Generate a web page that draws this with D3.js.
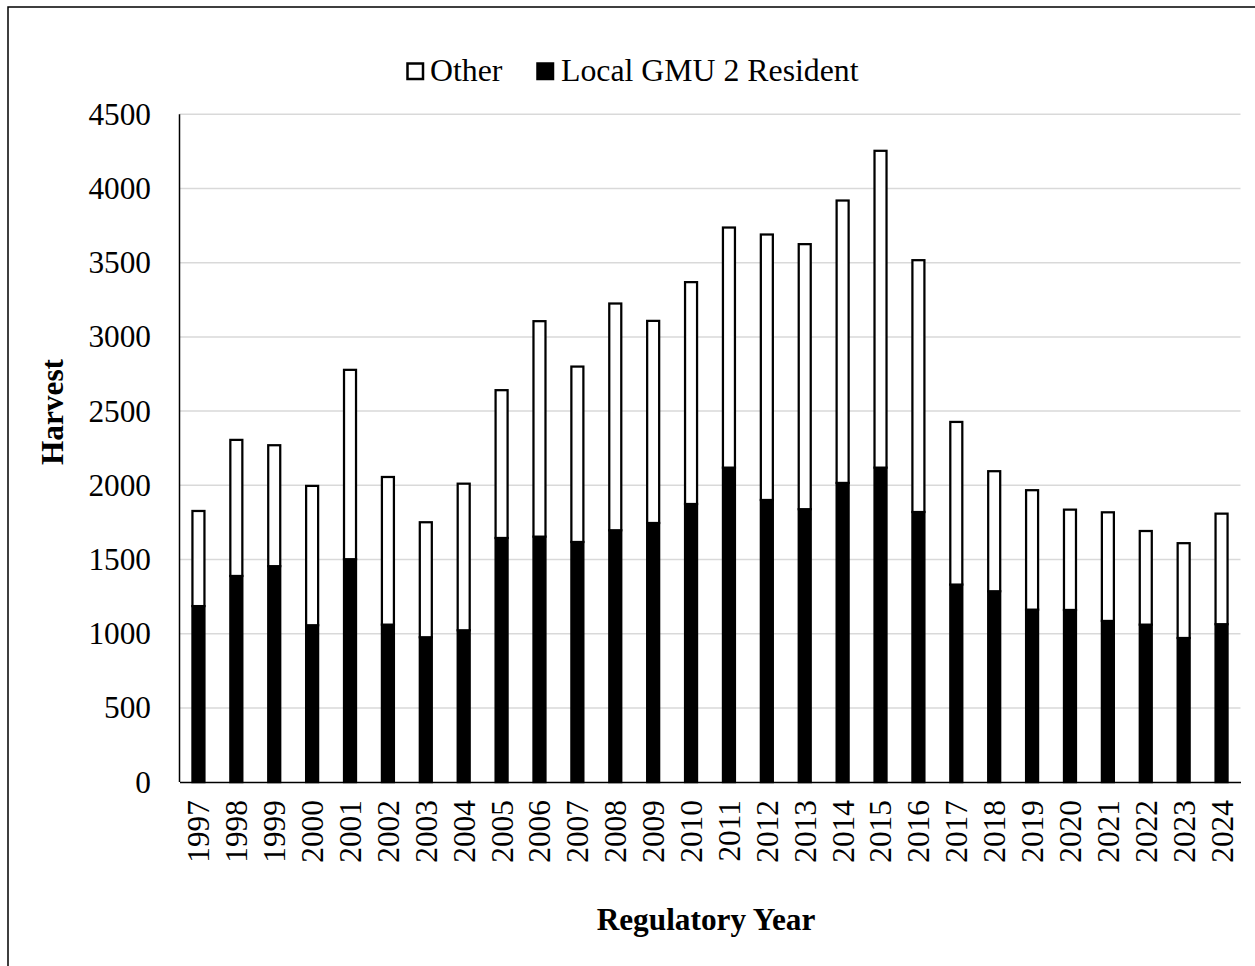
<!DOCTYPE html>
<html>
<head>
<meta charset="utf-8">
<script src="https://cdn.jsdelivr.net/npm/d3@7"></script>
<style>
  html, body { margin: 0; padding: 0; background: #fff; }
  svg { display: block; font-family: "Liberation Serif", "Times New Roman", serif; }
  svg text { font-family: "Liberation Serif", "Times New Roman", serif; }
</style>
</head>
<body>
<svg id="chart" width="1255" height="966"></svg>
<script>
const years = ["1997","1998","1999","2000","2001","2002","2003","2004","2005","2006","2007","2008","2009","2010","2011","2012","2013","2014","2015","2016","2017","2018","2019","2020","2021","2022","2023","2024"];
const totalHarvest = [1827,2306,2270,1996,2778,2056,1751,2011,2641,3106,2800,3225,3108,3369,3737,3690,3625,3919,4254,3517,2427,2095,1967,1836,1818,1692,1610,1809];
const localResident = [1186,1389,1455,1057,1502,1061,976,1023,1645,1654,1618,1697,1746,1874,2119,1901,1839,2016,2119,1820,1331,1286,1162,1160,1086,1061,971,1064];
const otherHarvest = totalHarvest.map((t, i) => t - localResident[i]);
const yTicks = [0,500,1000,1500,2000,2500,3000,3500,4000,4500];
const seriesNames = ["Other", "Local GMU 2 Resident"];

(function () {
const data = years.map((yr, i) => ({ year: yr, local: localResident[i], other: otherHarvest[i] }));

const svg = d3.select("#chart");
const pLeft = 179.5, pRight = 1240.5, pTop = 114.3, pBottom = 782.1;
const FS = 31.3;

// outer frame
svg.append("rect").attr("x", 8).attr("y", 7).attr("width", 1300).attr("height", 1000)
  .attr("fill", "none").attr("stroke", "#000").attr("stroke-width", 1.5);

const x = d3.scaleBand().domain(years).range([pLeft, pRight]).paddingInner(0.683).paddingOuter(0.3415);
const y = d3.scaleLinear().domain([0, 4500]).range([pBottom, pTop]);

// gridlines
svg.append("g").selectAll("line").data(yTicks.filter(d => d > 0)).join("line")
  .attr("x1", pLeft).attr("x2", pRight)
  .attr("y1", d => y(d)).attr("y2", d => y(d))
  .attr("stroke", "#d9d9d9").attr("stroke-width", 1.5);

// y tick labels
const yAxis = d3.axisLeft(y).tickValues(yTicks).tickFormat(d3.format("d")).tickSize(0).tickPadding(0);
const gy = svg.append("g").attr("transform", `translate(151,0)`).call(yAxis)
  .attr("font-family", null).attr("font-size", null);
gy.select(".domain").remove();
gy.selectAll("text").attr("font-size", FS).attr("fill", "#000");

// bars
const stack = d3.stack().keys(["local", "other"]);
const layers = stack(data);
const fills = { local: "#000", other: "#fff" };
svg.append("g").selectAll("g").data(layers).join("g")
  .attr("fill", d => fills[d.key])
  .selectAll("rect").data(d => d).join("rect")
  .attr("x", d => x(d.data.year))
  .attr("width", x.bandwidth())
  .attr("y", d => y(d[1]))
  .attr("height", d => y(d[0]) - y(d[1]))
  .attr("stroke", "#000").attr("stroke-width", 2.25);

// axis lines
svg.append("line").attr("x1", pLeft).attr("x2", pLeft).attr("y1", pTop).attr("y2", pBottom)
  .attr("stroke", "#000").attr("stroke-width", 1.5);
const xAxis = d3.axisBottom(x).tickSize(0).tickPadding(0);
const gx = svg.append("g").attr("transform", `translate(0,${pBottom})`).call(xAxis)
  .attr("font-family", null).attr("font-size", null);
gx.select(".domain").attr("stroke", "#000").attr("stroke-width", 1.5);
gx.selectAll("text")
  .attr("font-size", FS).attr("fill", "#000")
  .attr("text-anchor", "end")
  .attr("transform", "rotate(-90)")
  .attr("x", -18).attr("y", 0).attr("dy", "0.35em");

// axis titles
svg.append("text").attr("transform", "translate(52,412) rotate(-90)")
  .attr("text-anchor", "middle").attr("dy", "0.35em")
  .attr("font-size", FS).attr("font-weight", "bold").text("Harvest");
svg.append("text").attr("x", 706).attr("y", 930)
  .attr("text-anchor", "middle")
  .attr("font-size", FS).attr("font-weight", "bold").text("Regulatory Year");

// legend
const legend = [
  { name: seriesNames[0], fill: "#fff", sx: 407.5, tx: 430 },
  { name: seriesNames[1], fill: "#000", sx: 537.5, tx: 561 }
];
const lg = svg.append("g").selectAll("g").data(legend).join("g");
lg.append("rect").attr("x", d => d.sx).attr("y", 63.5).attr("width", 15.5).attr("height", 15.5)
  .attr("fill", d => d.fill).attr("stroke", "#000").attr("stroke-width", 2.5);
lg.append("text").attr("x", d => d.tx).attr("y", 81).attr("font-size", 31.8).text(d => d.name);
})();
</script>
</body>
</html>
